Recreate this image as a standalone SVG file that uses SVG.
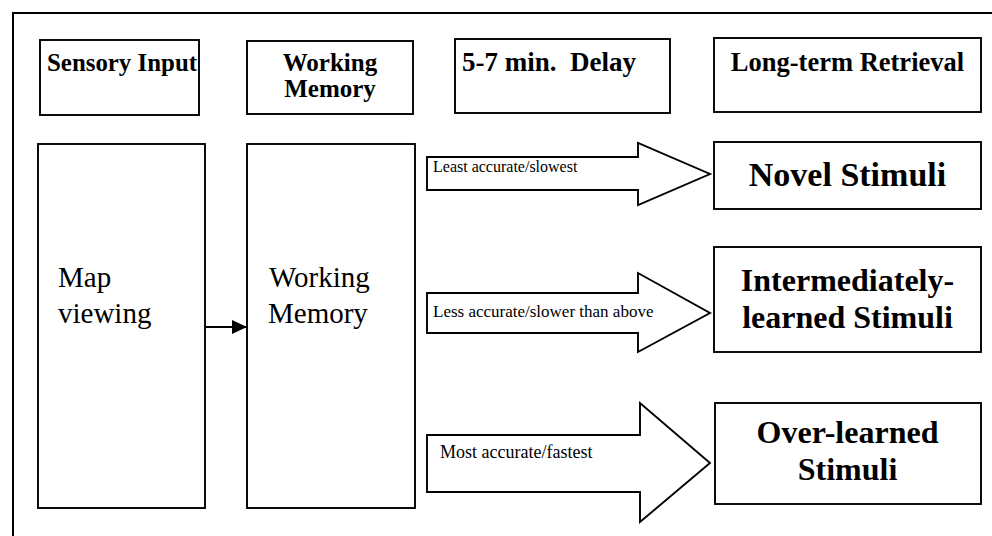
<svg xmlns="http://www.w3.org/2000/svg" width="992" height="536" viewBox="0 0 992 536">
<style>
.box{fill:#fff;stroke:#000;stroke-width:1.9}
.frame{fill:none;stroke:#000;stroke-width:2}
.barrow{fill:#fff;stroke:#000;stroke-width:1.9;stroke-linejoin:miter}
.hd{font-family:"Liberation Serif","Times New Roman",serif;font-weight:bold;font-size:25px;fill:#000}
.big{font-family:"Liberation Serif","Times New Roman",serif;font-size:29px;fill:#000}
.stim{font-family:"Liberation Serif","Times New Roman",serif;font-weight:bold;font-size:32px;fill:#000;text-anchor:middle}
.lbl{font-family:"Liberation Serif","Times New Roman",serif;font-size:16px;fill:#000}
.line{stroke:#000;stroke-width:1.8;fill:none}
</style>
<defs>
<marker id="ah" markerWidth="15" markerHeight="14" refX="15" refY="7" orient="auto" markerUnits="userSpaceOnUse" viewBox="0 0 15 14">
<path d="M0,0 L15,7 L0,14 Z" fill="#000"/>
</marker>
</defs>
<rect width="992" height="536" fill="#fff"/>
<path class="frame" d="M13,536 V13 H992"/>

<g id="hdr-sensory">
<rect class="box" x="40" y="40" width="159" height="75"/>
<text class="hd" x="47" y="71" textLength="150" lengthAdjust="spacingAndGlyphs">Sensory Input</text>
</g>
<g id="hdr-working">
<rect class="box" x="247" y="41" width="166" height="73"/>
<text class="hd" x="330" y="71" text-anchor="middle">Working</text>
<text class="hd" x="330" y="97" text-anchor="middle">Memory</text>
</g>
<g id="hdr-delay">
<rect class="box" x="455" y="39" width="215" height="74"/>
<text class="hd" x="462" y="71" xml:space="preserve" style="white-space:pre;font-size:27px">5-7 min.  Delay</text>
</g>
<g id="hdr-longterm">
<rect class="box" x="714" y="38" width="267" height="74"/>
<text class="hd" x="847.5" y="71" text-anchor="middle" style="font-size:26.5px">Long-term Retrieval</text>
</g>

<g id="map-viewing">
<rect class="box" x="38" y="144" width="167" height="364"/>
<text class="big" x="58" y="287">Map</text>
<text class="big" x="58" y="323">viewing</text>
</g>
<g id="working-memory">
<rect class="box" x="247" y="144" width="168" height="364"/>
<text class="big" x="269" y="287">Working</text>
<text class="big" x="268" y="323">Memory</text>
</g>

<g id="novel">
<rect class="box" x="714" y="142" width="267" height="67"/>
<text class="stim" x="847.5" y="186" style="font-size:34px">Novel Stimuli</text>
</g>
<g id="intermediate">
<rect class="box" x="714" y="247" width="267" height="105"/>
<text class="stim" x="847.5" y="291">Intermediately-</text>
<text class="stim" x="847.5" y="328">learned Stimuli</text>
</g>
<g id="overlearned">
<rect class="box" x="715" y="403" width="266" height="101"/>
<text class="stim" x="847.5" y="443">Over-learned</text>
<text class="stim" x="847.5" y="480">Stimuli</text>
</g>

<g id="connectors">
<line class="line" x1="206" y1="327" x2="247" y2="327" marker-end="url(#ah)"/>
<g id="arrow-least">
<path class="barrow" d="M427,157 H638 V143 L710,174 L638,205 V190 H427 Z"/>
<text class="lbl" x="433" y="172">Least accurate/slowest</text>
</g>
<g id="arrow-less">
<path class="barrow" d="M427,293 H638 V273 L710,313 L638,352 V333 H427 Z"/>
<text class="lbl" x="433" y="317" style="font-size:17px">Less accurate/slower than above</text>
</g>
<g id="arrow-most">
<path class="barrow" d="M427,435 H640 V403 L710,463 L640,522 V492 H427 Z"/>
<text class="lbl" x="440" y="458" style="font-size:18px">Most accurate/fastest</text>
</g>
</g>
</svg>
